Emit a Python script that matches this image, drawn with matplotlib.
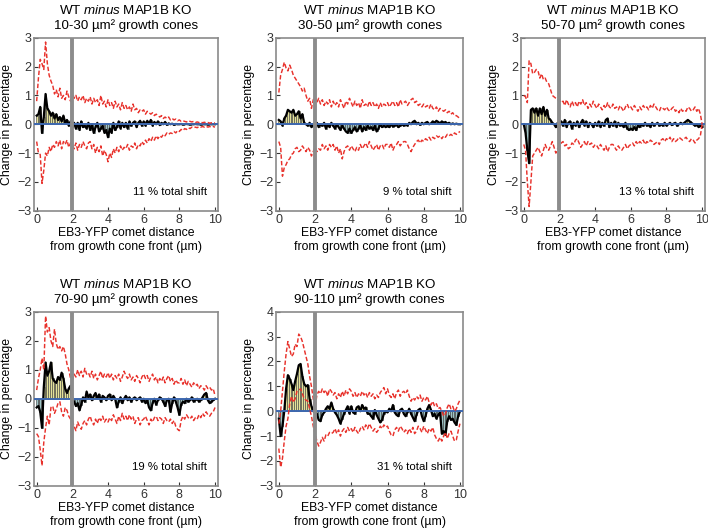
import numpy as np
import matplotlib
matplotlib.use('Agg')
import matplotlib.pyplot as plt

plt.rcParams['font.family'] = ['Liberation Sans', 'DejaVu Sans']
plt.rcParams['mathtext.fontset'] = 'custom'
plt.rcParams['mathtext.rm'] = 'Liberation Sans'
plt.rcParams['mathtext.it'] = 'Liberation Sans:italic'

# size classes (titles) and total shift labels
sizes = ['10-30', '30-50', '50-70', '70-90', '90-110']
shifts = ['11', '9', '13', '19', '31']

# difference WT minus KO, sampled every 0.1 um from 0 to 10
d1 = [0.30, 0.35, 0.60, -0.30, 0.25, 1.05, 0.55, 0.45, 0.30, 0.40,
      0.20, 0.35, 0.15, 0.25, 0.10, 0.30, 0.05, 0.15, -0.05, 0.10,
      -0.10, 0.05, -0.15, 0.05, -0.20, 0.10, -0.10, -0.05, -0.15, 0.05,
      -0.20, 0.00, -0.30, -0.10, 0.05, -0.25, -0.15, -0.05, -0.30, -0.20,
      -0.45, -0.15, -0.30, 0.05, -0.20, -0.10, 0.10, -0.15, 0.05, -0.10,
      0.05, -0.15, 0.10, -0.05, 0.05, 0.10, -0.10, 0.05, 0.12, -0.05,
      0.10, -0.05, 0.12, 0.02, 0.15, -0.05, 0.08, 0.00, 0.10, -0.03,
      0.05, 0.00, 0.08, -0.02, 0.03, 0.00, 0.02, -0.02, 0.01, 0.00,
      0.00, 0.01, -0.01, 0.00, 0.01, 0.00, -0.01, 0.00, 0.00, 0.01,
      0.00, 0.00, -0.01, 0.00, 0.00, 0.00, -0.01, 0.00, 0.00, 0.00, 0.00]
u1 = [0.80, 1.60, 2.25, 2.10, 1.90, 2.85, 2.10, 1.70, 1.50, 1.35,
      1.05, 1.20, 0.95, 1.25, 0.90, 1.00, 0.85, 1.15, 0.95, 0.80,
      1.10, 0.90, 1.00, 0.80, 0.95, 0.85, 1.00, 0.75, 0.90, 0.80,
      0.95, 0.70, 0.90, 0.75, 0.85, 0.65, 1.00, 0.70, 0.80, 0.60,
      0.85, 0.65, 0.75, 0.55, 0.80, 0.60, 0.70, 0.50, 0.75, 0.55,
      0.65, 0.50, 0.60, 0.45, 0.70, 0.50, 0.55, 0.40, 0.50, 0.45,
      0.50, 0.35, 0.45, 0.40, 0.35, 0.40, 0.30, 0.35, 0.30, 0.25,
      0.30, 0.20, 0.25, 0.20, 0.25, 0.15, 0.20, 0.15, 0.18, 0.12,
      0.15, 0.10, 0.12, 0.10, 0.08, 0.12, 0.10, 0.08, 0.10, 0.06,
      0.08, 0.06, 0.08, 0.05, 0.07, 0.05, 0.06, 0.04, 0.05, 0.05, 0.05]
l1 = [-0.60, -1.00, -1.05, -2.05, -1.60, -1.00, -1.10, -0.80, -0.95, -0.70,
      -0.80, -0.60, -0.75, -0.55, -0.85, -0.60, -0.70, -0.55, -0.80, -0.65,
      -0.70, -0.85, -0.65, -0.90, -0.70, -0.80, -0.60, -0.75, -0.85, -0.65,
      -0.60, -0.85, -0.70, -1.00, -0.80, -0.95, -0.75, -1.10, -0.90, -1.05,
      -1.30, -1.00, -1.15, -0.85, -1.00, -0.80, -0.95, -0.75, -0.90, -0.80,
      -0.85, -0.70, -0.90, -0.75, -0.80, -0.65, -0.85, -0.70, -0.75, -0.60,
      -0.70, -0.55, -0.65, -0.50, -0.60, -0.45, -0.55, -0.40, -0.50, -0.40,
      -0.45, -0.35, -0.40, -0.30, -0.35, -0.30, -0.32, -0.25, -0.30, -0.22,
      -0.25, -0.18, -0.22, -0.15, -0.18, -0.12, -0.15, -0.10, -0.12, -0.10,
      -0.12, -0.08, -0.10, -0.08, -0.10, -0.07, -0.10, -0.08, -0.10, -0.08, -0.10]

d2 = [0.15, 0.10, -0.05, 0.20, 0.30, 0.50, 0.45, 0.40, 0.50, 0.30,
      0.35, 0.45, 0.20, 0.35, 0.05, 0.00, -0.05, 0.05, -0.10, 0.00,
      -0.10, 0.05, -0.10, 0.00, -0.05, 0.05, -0.15, 0.00, -0.10, 0.05,
      -0.05, -0.15, 0.00, -0.10, -0.20, -0.05, -0.15, -0.25, -0.30, -0.15,
      -0.30, -0.20, -0.10, -0.25, -0.15, -0.05, -0.25, -0.10, -0.20, -0.05,
      -0.15, -0.10, -0.20, -0.05, -0.25, -0.15, 0.00, -0.10, -0.05, -0.10,
      -0.05, -0.10, 0.00, -0.08, -0.05, 0.00, -0.10, -0.05, 0.00, -0.05,
      0.00, -0.05, 0.05, 0.00, 0.08, 0.12, 0.00, 0.05, -0.02, 0.05,
      0.00, 0.05, 0.08, 0.00, 0.03, 0.10, 0.05, 0.12, 0.08, 0.03,
      0.10, 0.05, 0.08, 0.02, 0.05, 0.00, 0.03, 0.00, 0.02, 0.00, 0.00]
u2 = [1.10, 1.70, 1.90, 2.15, 1.95, 1.85, 2.05, 1.90, 1.70, 1.60,
      1.50, 1.40, 1.30, 1.15, 1.25, 1.00, 0.80, 0.90, 0.55, 0.85,
      0.95, 0.75, 0.90, 0.70, 0.85, 0.65, 0.80, 0.70, 0.85, 0.60,
      0.80, 0.65, 0.75, 0.60, 0.85, 0.70, 0.55, 0.80, 0.70, 0.90,
      0.75, 0.60, 0.80, 0.65, 0.75, 0.55, 0.85, 0.65, 0.70, 0.60,
      0.80, 0.65, 0.75, 0.60, 0.70, 0.55, 0.75, 0.60, 0.70, 0.65,
      0.75, 0.60, 0.70, 0.80, 0.65, 0.75, 0.60, 0.85, 0.70, 0.75,
      0.80, 0.65, 0.75, 0.85, 0.90, 0.75, 0.80, 0.65, 0.70, 0.60,
      0.70, 0.60, 0.65, 0.55, 0.70, 0.55, 0.50, 0.60, 0.45, 0.55,
      0.50, 0.45, 0.50, 0.40, 0.45, 0.35, 0.40, 0.30, 0.30, 0.25, 0.20]
l2 = [-0.60, -0.80, -1.80, -1.50, -1.40, -1.25, -1.20, -1.05, -1.00, -0.85,
      -0.80, -0.95, -0.90, -0.75, -0.85, -0.95, -0.80, -0.90, -1.10, -0.95,
      -0.80, -0.95, -0.85, -0.90, -0.70, -0.85, -0.75, -0.90, -0.70, -0.80,
      -0.70, -0.90, -0.75, -1.00, -0.85, -1.20, -0.95, -0.80, -0.75, -0.90,
      -0.75, -0.85, -0.95, -0.80, -0.90, -0.70, -0.85, -0.75, -0.65, -0.80,
      -0.60, -0.75, -0.90, -0.80, -0.70, -0.90, -0.75, -0.70, -0.85, -0.70,
      -0.70, -0.80, -0.65, -0.90, -0.75, -0.70, -0.60, -0.75, -0.65, -0.60,
      -0.60, -0.70, -0.85, -0.95, -0.80, -0.70, -0.60, -0.55, -0.65, -0.55,
      -0.60, -0.50, -0.55, -0.45, -0.55, -0.45, -0.50, -0.40, -0.45, -0.40,
      -0.50, -0.40, -0.45, -0.35, -0.40, -0.35, -0.40, -0.30, -0.35, -0.30, -0.25]

d3 = [0.00, -0.30, -0.90, -1.35, 0.50, 0.55, 0.40, 0.55, 0.30, 0.55,
      0.35, 0.60, 0.30, 0.50, 0.20, 0.15, 0.05, 0.00, -0.10, 0.05,
      -0.10, 0.10, -0.05, 0.15, -0.10, 0.05, 0.10, -0.15, 0.05, -0.05,
      0.10, -0.10, 0.05, 0.15, -0.05, 0.10, -0.10, 0.05, 0.00, -0.10,
      0.05, -0.05, 0.10, -0.10, 0.05, -0.05, 0.15, 0.20, -0.10, 0.05,
      -0.05, 0.10, -0.10, 0.05, -0.05, 0.00, -0.10, 0.05, -0.15, -0.20,
      -0.15, -0.20, -0.10, -0.20, -0.05, -0.10, 0.00, -0.05, 0.05, -0.05,
      0.00, -0.10, 0.05, -0.05, 0.00, 0.05, -0.05, 0.00, -0.05, 0.05,
      -0.05, 0.00, 0.05, -0.03, 0.02, 0.05, -0.05, 0.00, 0.05, 0.00,
      0.05, 0.10, 0.15, 0.10, 0.05, 0.00, -0.05, 0.00, -0.10, -0.05, -0.10]
u3 = [1.00, 0.95, 0.75, 2.20, 2.10, 1.75, 1.80, 1.90, 1.85, 1.60,
      1.75, 1.55, 1.60, 1.45, 1.40, 1.20, 1.00, 0.95, 0.90, 0.85,
      0.85, 0.75, 0.80, 0.65, 0.85, 0.70, 0.60, 0.80, 0.65, 0.75,
      0.60, 0.80, 0.70, 0.85, 0.65, 0.75, 0.55, 0.70, 0.60, 0.80,
      0.65, 0.55, 0.70, 0.60, 0.50, 0.65, 0.55, 0.75, 0.60, 0.55,
      0.70, 0.55, 0.60, 0.50, 0.65, 0.55, 0.45, 0.60, 0.70, 0.55,
      0.60, 0.50, 0.65, 0.55, 0.45, 0.60, 0.50, 0.65, 0.55, 0.60,
      0.50, 0.65, 0.55, 0.70, 0.60, 0.50, 0.45, 0.60, 0.55, 0.50,
      0.60, 0.50, 0.45, 0.55, 0.60, 0.45, 0.50, 0.40, 0.55, 0.45,
      0.50, 0.45, 0.60, 0.55, 0.45, 0.50, 0.60, 0.45, 0.55, 0.35, 0.00]
l3 = [-0.70, -0.90, -2.00, -2.85, -2.00, -1.10, -1.00, -0.90, -0.80, -0.95,
      -1.10, -0.90, -0.70, -0.85, -0.90, -0.75, -0.60, -0.80, -1.00, -0.85,
      -0.75, -0.65, -0.60, -0.75, -0.70, -0.85, -0.80, -0.65, -0.70, -0.55,
      -0.50, -0.65, -0.80, -0.70, -0.60, -0.75, -0.60, -0.70, -0.65, -0.80,
      -0.70, -0.75, -0.85, -0.70, -0.80, -0.90, -0.75, -0.95, -0.80, -0.70,
      -0.70, -0.80, -0.90, -0.75, -0.85, -0.90, -0.80, -0.70, -0.85, -0.75,
      -0.70, -0.65, -0.75, -0.60, -0.70, -0.60, -0.65, -0.55, -0.70, -0.60,
      -0.65, -0.55, -0.60, -0.70, -0.65, -0.60, -0.70, -0.55, -0.50, -0.60,
      -0.50, -0.55, -0.45, -0.60, -0.50, -0.60, -0.55, -0.45, -0.50, -0.55,
      -0.50, -0.45, -0.55, -0.60, -0.50, -0.55, -0.65, -0.55, -0.50, -0.40, 0.00]

d4 = [-0.30, -0.25, -0.45, -1.00, 0.40, 1.25, 0.80, 0.95, 1.25, 0.70,
      0.60, 0.55, 0.75, 0.65, 0.90, 0.70, 0.35, 0.20, 0.35, 0.45,
      0.00, -0.10, -0.25, -0.15, -0.40, -0.20, 0.05, -0.10, 0.25, 0.05,
      0.15, -0.05, 0.10, 0.20, 0.00, 0.15, -0.10, 0.10, 0.05, -0.05,
      0.10, 0.15, -0.05, 0.10, 0.00, -0.30, -0.10, 0.05, -0.15, 0.00,
      0.10, -0.05, 0.05, -0.10, 0.00, 0.05, -0.05, 0.00, 0.05, -0.10,
      0.00, -0.15, -0.05, -0.30, -0.40, -0.15, 0.00, -0.20, -0.05, 0.05,
      0.00, -0.10, -0.25, -0.05, 0.00, -0.45, -0.15, 0.05, -0.10, -0.30,
      -0.55, -0.20, -0.10, -0.15, 0.00, -0.10, -0.05, 0.05, -0.10, -0.05,
      0.00, -0.10, -0.05, 0.05, 0.15, 0.20, -0.05, -0.15, -0.10, -0.05, 0.00]
u4 = [0.30, 0.70, 1.00, 1.40, 1.00, 2.85, 2.30, 2.45, 2.00, 1.80,
      2.40, 1.90, 1.70, 1.80, 1.65, 1.80, 1.55, 1.20, 1.00, 0.70,
      0.65, 0.85, 0.75, 1.00, 0.80, 0.95, 0.75, 1.05, 0.85, 0.90,
      0.75, 0.95, 0.70, 0.85, 0.65, 0.80, 0.95, 0.70, 0.85, 0.75,
      0.90, 0.70, 0.85, 0.65, 0.80, 0.70, 0.85, 0.60, 0.75, 0.95,
      0.80, 0.70, 0.85, 0.65, 0.75, 0.60, 0.80, 0.70, 0.55, 0.75,
      0.85, 0.70, 0.80, 0.60, 0.75, 0.85, 0.65, 0.75, 0.55, 0.70,
      0.60, 0.75, 0.55, 0.70, 0.80, 0.60, 0.70, 0.50, 0.65, 0.55,
      0.55, 0.70, 0.50, 0.65, 0.45, 0.60, 0.50, 0.40, 0.55, 0.45,
      0.50, 0.35, 0.45, 0.40, 0.30, 0.45, 0.35, 0.40, 0.30, 0.35, 0.10]
l4 = [-1.20, -1.30, -1.75, -2.30, -1.50, -1.00, -0.60, -0.90, -0.30, -0.25,
      -0.50, -0.35, -0.15, -0.10, -0.45, -0.60, -0.30, -0.40, -0.60, -0.70,
      -0.75, -0.95, -1.10, -0.80, -0.95, -1.05, -0.85, -0.75, -0.90, -0.70,
      -0.60, -0.80, -0.90, -0.70, -0.85, -0.65, -0.75, -0.60, -0.80, -0.70,
      -0.80, -0.65, -0.75, -0.55, -0.70, -0.85, -0.60, -0.75, -0.50, -0.70,
      -0.60, -0.75, -0.55, -0.70, -0.60, -0.85, -0.70, -0.65, -0.90, -0.75,
      -0.70, -0.60, -0.75, -0.90, -0.70, -0.80, -0.65, -0.60, -0.75, -0.65,
      -0.70, -0.85, -0.65, -0.75, -0.80, -0.70, -0.85, -0.75, -0.95, -1.05,
      -1.10, -0.75, -0.60, -0.70, -0.55, -0.65, -0.70, -0.60, -0.75, -0.65,
      -0.70, -0.55, -0.65, -0.50, -0.60, -0.45, -0.55, -0.60, -0.50, -0.45, -0.30]

d5 = [-0.30, -1.00, -0.60, 0.00, 0.90, 1.45, 1.30, 1.10, 0.85, 1.20,
      1.50, 1.85, 1.90, 1.40, 1.10, 1.00, 1.05, 0.50, 0.20, 0.00,
      -0.05, -0.10, -0.35, -0.40, -0.15, -0.05, 0.10, 0.20, 0.10, 0.35,
      0.10, -0.05, -0.15, -0.30, -0.50, -0.30, -0.10, 0.05, 0.20, -0.10,
      0.20, -0.05, -0.10, 0.15, 0.20, 0.00, 0.25, 0.10, 0.15, -0.10,
      -0.10, -0.20, -0.30, 0.05, -0.15, -0.30, -0.45, -0.35, -0.10, 0.00,
      -0.05, 0.10, 0.00, 0.25, -0.05, -0.15, -0.20, 0.05, 0.10, -0.10,
      -0.20, -0.05, 0.10, -0.10, -0.25, -0.40, -0.15, 0.05, 0.10, -0.20,
      -0.40, -0.20, 0.10, 0.25, 0.05, -0.20, -0.10, -0.30, -0.15, -0.05,
      -0.90, -0.80, -0.95, -0.40, -0.20, -0.35, -0.30, -0.45, -0.55, -0.20, 0.00]
u5 = [-0.50, 0.00, 0.80, 1.60, 2.30, 2.80, 2.50, 2.20, 2.30, 2.70,
      2.60, 3.10, 3.00, 2.80, 2.50, 2.20, 1.90, 1.40, 1.00, 0.50,
      0.15, 0.65, 0.80, 0.70, 0.90, 0.75, 0.85, 0.60, 0.90, 0.80,
      0.65, 0.75, 0.50, 0.70, 0.55, 0.80, 0.60, 0.85, 0.70, 0.90,
      0.80, 0.60, 0.75, 0.55, 0.70, 0.60, 0.80, 0.65, 0.75, 0.55,
      0.75, 0.60, 0.70, 0.50, 0.65, 0.55, 0.75, 0.85, 0.95, 0.70,
      0.90, 0.65, 0.55, 0.70, 0.50, 0.75, 0.85, 0.60, 0.75, 0.80,
      0.70, 0.85, 0.60, 0.40, 0.55, 0.45, 0.60, 0.50, 0.65, 0.40,
      0.55, 0.45, 0.60, 0.35, 0.25, 0.40, 0.20, 0.30, 0.10, 0.15,
      0.00, -0.20, -0.10, 0.15, 0.30, 0.10, 0.20, 0.00, 0.10, 0.30, 0.45]
l5 = [-1.50, -2.25, -1.90, -1.20, -0.60, -0.30, 0.30, 0.60, 0.35, 0.50,
      0.80, 0.85, 0.90, 0.70, 0.50, 0.45, 0.40, 0.10, -0.20, -0.60,
      -0.90, -1.20, -1.40, -1.25, -1.05, -1.20, -0.95, -1.00, -0.85, -0.90,
      -0.85, -0.70, -0.90, -0.75, -1.00, -0.80, -0.70, -0.85, -0.65, -0.80,
      -0.70, -0.85, -0.65, -0.80, -0.90, -0.70, -0.60, -0.75, -0.55, -0.70,
      -0.50, -0.65, -0.80, -0.70, -0.85, -0.75, -0.60, -0.70, -0.55, -0.65,
      -0.60, -0.80, -0.95, -1.00, -0.75, -0.65, -0.80, -0.60, -0.70, -0.85,
      -0.75, -0.90, -0.70, -0.85, -0.65, -0.90, -0.80, -0.60, -0.70, -0.85,
      -0.60, -0.75, -0.90, -0.70, -0.80, -0.65, -0.95, -1.10, -1.20, -1.05,
      -1.20, -1.00, -0.85, -1.10, -0.90, -0.80, -1.00, -1.20, -1.15, -0.80, -0.50]

diffs = [d1, d2, d3, d4, d5]
uppers = [u1, u2, u3, u4, u5]
lowers = [l1, l2, l3, l4, l5]
ylims = [(-3, 3), (-3, 3), (-3, 3), (-3, 3), (-3, 4)]

# axes rectangles in figure fraction
rects = [[0.048, 0.603, 0.260, 0.326],
         [0.390, 0.603, 0.264, 0.326],
         [0.736, 0.603, 0.260, 0.326],
         [0.048, 0.085, 0.260, 0.328],
         [0.390, 0.085, 0.264, 0.328]]

fig = plt.figure(figsize=(7.08, 5.31), dpi=100)

for i in range(5):
    ax = fig.add_axes(rects[i])
    d = np.array(diffs[i])
    x = np.arange(len(d)) * 0.1
    pos = d >= 0
    ax.bar(x[pos], d[pos], width=0.1, color='#e4e29a', edgecolor='#3a3a3a', linewidth=0.4, zorder=2)
    ax.bar(x[~pos], d[~pos], width=0.1, color='#9ec3c4', edgecolor='#3a3a3a', linewidth=0.4, zorder=2)
    ax.plot(x, d, color='black', linewidth=1.6, zorder=3)
    ax.axhline(0, color='#3d68b0', linewidth=1.4, zorder=4)
    xu = np.arange(len(uppers[i])) * 0.1
    ax.plot(xu, uppers[i], color='#e8322c', linestyle='--', dashes=(3, 1.5), linewidth=1.05, zorder=5)
    xl = np.arange(len(lowers[i])) * 0.1
    ax.plot(xl, lowers[i], color='#e8322c', linestyle='--', dashes=(3, 1.5), linewidth=1.05, zorder=5)
    ax.axvline(2, color='#8c8c8c', linewidth=2.8, zorder=6)

    ax.set_xlim(-0.15, 10.17)
    ax.set_ylim(*ylims[i])
    ax.set_xticks([0, 2, 4, 6, 8, 10])
    ax.set_yticks(range(ylims[i][0], ylims[i][1] + 1))
    ax.tick_params(direction='in', length=3, colors='#333333', labelsize=9, pad=2)
    for s in ax.spines.values():
        s.set_color('#8a8a8a')
        s.set_linewidth(1.2)

    # two-line title, placed as separate texts to control spacing
    ax.text(0.5, 1.158, 'WT $\\it{minus}$ MAP1B KO', transform=ax.transAxes,
            ha='center', va='center', fontsize=9.6)
    ax.text(0.5, 1.072, sizes[i] + ' \u00b5m\u00b2 growth cones', transform=ax.transAxes,
            ha='center', va='center', fontsize=9.6)
    # two-line x label
    ax.text(0.5, -0.128, 'EB3-YFP comet distance', transform=ax.transAxes,
            ha='center', va='center', fontsize=8.8)
    ax.text(0.5, -0.208, 'from growth cone front (\u00b5m)', transform=ax.transAxes,
            ha='center', va='center', fontsize=8.8)
    ax.set_ylabel('Change in percentage', fontsize=8.8, labelpad=3)
    ax.text(0.94, 0.11, shifts[i] + ' % total shift', transform=ax.transAxes,
            ha='right', va='center', fontsize=8.2)

fig.savefig('out.png', dpi=100)
